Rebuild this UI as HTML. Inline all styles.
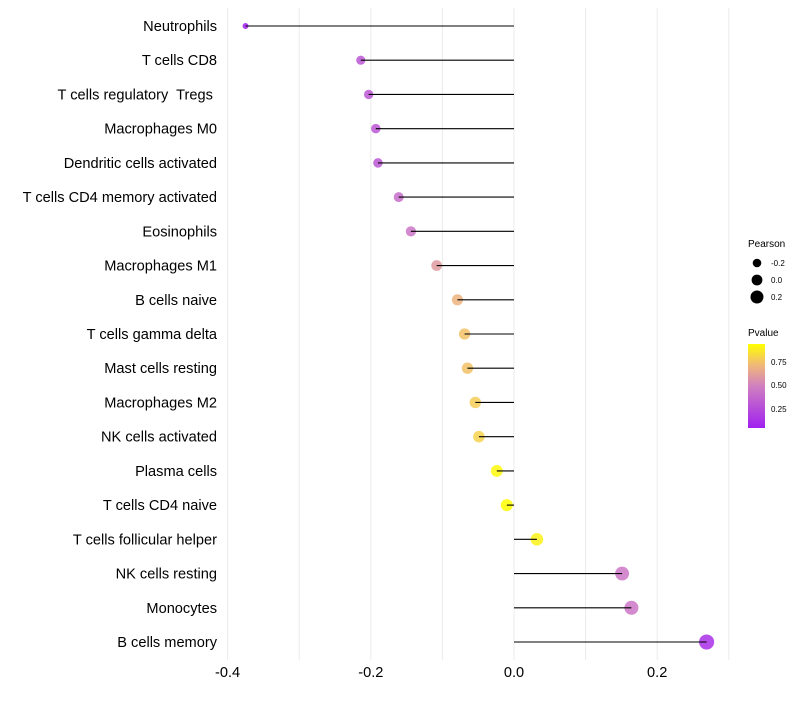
<!DOCTYPE html>
<html><head><meta charset="utf-8"><style>
body{margin:0;background:#fff;font-family:"Liberation Sans",sans-serif}
text{white-space:pre}
</style></head><body>
<svg id="c" width="800" height="700" xmlns="http://www.w3.org/2000/svg">
<defs><linearGradient id="pg" x1="0" y1="1" x2="0" y2="0">
<stop offset="0" stop-color="#a020f0"/><stop offset="0.5" stop-color="#d080c0"/><stop offset="0.75" stop-color="#f0b878"/><stop offset="1" stop-color="#ffff00"/></linearGradient></defs>
<g id="grid"></g>
<g id="marks"></g>
<g id="labels"></g>
<g id="xt"></g>
<g font-size="10">
<text x="748" y="247">Pearson</text>
<circle cx="757" cy="263" r="4.3" fill="#000"/><text x="771" y="266" font-size="8">-0.2</text>
<circle cx="757" cy="280" r="5.4" fill="#000"/><text x="771" y="283" font-size="8">0.0</text>
<circle cx="757" cy="297" r="6.5" fill="#000"/><text x="771" y="300" font-size="8">0.2</text>
</g>
<g font-size="8">
<text x="748" y="336" font-size="10">Pvalue</text>
<rect x="748" y="344" width="17" height="84" fill="url(#pg)"/>
<text x="771" y="365">0.75</text>
<text x="771" y="388">0.50</text>
<text x="771" y="412">0.25</text>
</g>
</svg>
<script>
const categories=["Neutrophils","T cells CD8","T cells regulatory  Tregs ","Macrophages M0","Dendritic cells activated","T cells CD4 memory activated","Eosinophils","Macrophages M1","B cells naive","T cells gamma delta","Mast cells resting","Macrophages M2","NK cells activated","Plasma cells","T cells CD4 naive","T cells follicular helper","NK cells resting","Monocytes","B cells memory"];
const pearson=[-0.375,-0.214,-0.203,-0.193,-0.19,-0.161,-0.144,-0.108,-0.079,-0.069,-0.065,-0.054,-0.049,-0.024,-0.01,0.032,0.151,0.164,0.269];
const pvalue=[0.05,0.3,0.3,0.3,0.3,0.4,0.45,0.6,0.7,0.75,0.75,0.78,0.8,0.92,0.94,0.9,0.45,0.45,0.12];
const xTicks=[-0.4,-0.2,0.0,0.2];
const xTickLabels=["-0.4","-0.2","0.0","0.2"];
const gridVals=[-0.3,-0.1,0.1,0.3];
const NS="http://www.w3.org/2000/svg";
function x(v){return 514+v*716;}
function y(i){return 26+i*(616/(categories.length-1));}
function rad(v){return Math.sqrt(Math.max(3,37+75*v));}
function lerp(a,b,t){return a+(b-a)*t;}
const stops=[[0,[160,32,240]],[0.5,[208,128,192]],[0.75,[240,184,120]],[1,[255,255,0]]];
function col(p){let t=(p-0.05)/(0.94-0.05);t=Math.max(0,Math.min(1,t));
for(let k=1;k<stops.length;k++){if(t<=stops[k][0]){const a=stops[k-1],b=stops[k];const u=(t-a[0])/(b[0]-a[0]);
return "rgb("+[0,1,2].map(j=>Math.round(lerp(a[1][j],b[1][j],u))).join(",")+")";}}return "rgb(255,255,0)";}
function mk(tag,attrs,parent){const e=document.createElementNS(NS,tag);for(const k in attrs)e.setAttribute(k,attrs[k]);document.getElementById(parent).appendChild(e);return e;}
xTicks.concat(gridVals).forEach(v=>{const l=mk("line",{x1:x(v),x2:x(v),y1:8,y2:660,stroke:"#ebebeb","stroke-width":1},"grid");

});
categories.forEach((c,i)=>{
const cc=mk("circle",{cx:x(pearson[i]),cy:y(i),r:rad(pearson[i]),fill:col(pvalue[i]),"fill-opacity":0.85},"marks");


const s=mk("line",{x1:x(pearson[i]),x2:x(0),y1:y(i),y2:y(i),stroke:"#000","stroke-width":1.1},"marks");


const t=mk("text",{x:217,y:y(i)+5,"text-anchor":"end","font-size":14.6,fill:"#000"},"labels");
t.textContent=c;


});
xTicks.forEach((v,i)=>{const t=mk("text",{x:x(v),y:677,"text-anchor":"middle","font-size":14.6,fill:"#000"},"xt");
t.textContent=xTickLabels[i];

});
</script>
</body></html>
